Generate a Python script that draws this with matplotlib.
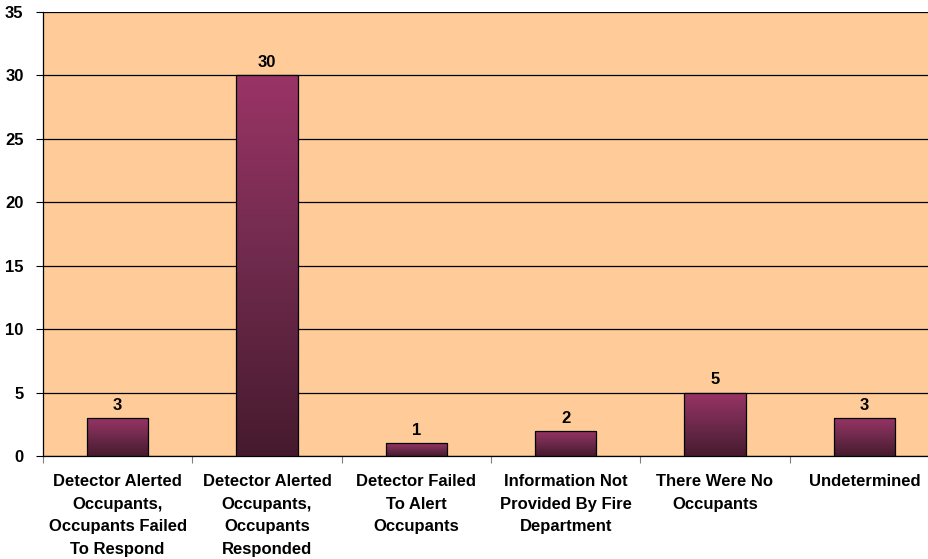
import numpy as np
import matplotlib.pyplot as plt
from matplotlib.colors import LinearSegmentedColormap
from matplotlib.patches import Rectangle

plt.rcParams['font.family'] = ['Liberation Sans', 'DejaVu Sans']

categories = [
    "Detector Alerted\nOccupants,\nOccupants Failed\nTo Respond",
    "Detector Alerted\nOccupants,\nOccupants\nResponded",
    "Detector Failed\nTo Alert\nOccupants",
    "Information Not\nProvided By Fire\nDepartment",
    "There Were No\nOccupants",
    "Undetermined",
]
counts = [3, 30, 1, 2, 5, 3]
yticks = [0, 5, 10, 15, 20, 25, 30, 35]

fig = plt.figure(figsize=(9.29, 5.59), dpi=100)
# plot area runs slightly past the right edge like the original
ax = fig.add_axes([43 / 929, 1 - 456 / 559, 896 / 929, 444 / 559])
ax.set_facecolor('#FFCC99')

cmap = LinearSegmentedColormap.from_list('bar', ['#461a2e', '#6e2a4c', '#9a3466'])
grad = np.linspace(0, 1, 256).reshape(-1, 1)
width = 0.41
x = np.arange(len(counts))
for xi, v in zip(x, counts):
    rect = Rectangle((xi - width / 2, 0), width, v, facecolor='none',
                     edgecolor='black', linewidth=0.9, zorder=4)
    ax.add_patch(rect)
    im = ax.imshow(grad, cmap=cmap, origin='lower', aspect='auto',
                   extent=(xi - width / 2, xi + width / 2, 0, v), zorder=3)
    im.set_clip_path(rect)
    ax.text(xi, v + 0.4, str(v), ha='center', va='bottom',
            fontsize=12, fontweight='bold')

ax.set_xlim(-0.5, len(counts) - 0.5)
ax.set_ylim(0, 35)
ax.set_yticks(yticks)
ax.set_yticklabels([str(t) for t in yticks], fontsize=12, fontweight='bold')
ax.yaxis.grid(True, color='black', linewidth=0.9)
ax.set_axisbelow(True)

ax.set_xticks(np.arange(len(counts) + 1) - 0.5, minor=False)
ax.set_xticklabels([])
ax.set_xticks(x, minor=True)
ax.set_xticklabels(categories, minor=True, fontsize=12, fontweight='bold',
                   linespacing=1.63, va='top')
ax.tick_params(axis='x', which='minor', length=0, pad=13)
ax.tick_params(axis='x', which='major', length=5, color='#808080')
ax.tick_params(axis='y', length=5, pad=9)

for s in ['top', 'right']:
    ax.spines[s].set_visible(False)
ax.spines['left'].set_linewidth(0.9)
ax.spines['bottom'].set_linewidth(0.9)

fig.savefig('out.png', dpi=100)
